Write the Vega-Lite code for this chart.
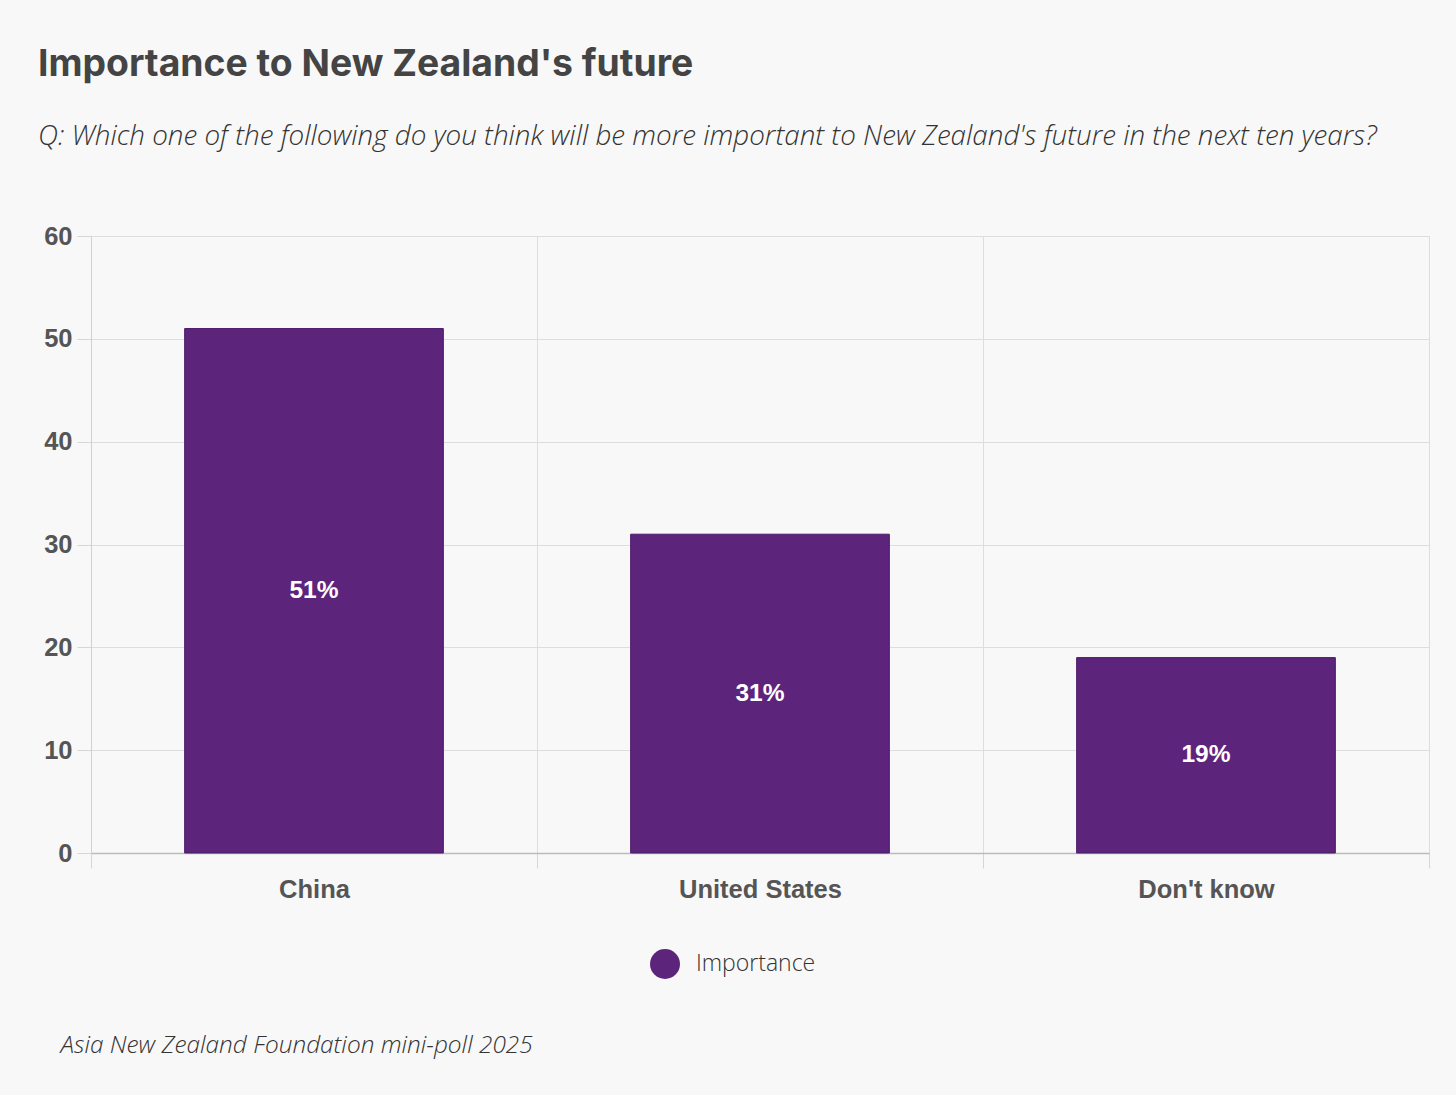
{
  "$schema": "https://vega.github.io/schema/vega-lite/v6.json",
  "autosize": "none",
  "width": 1338,
  "height": 617,
  "padding": {"left": 91, "top": 236, "right": 27, "bottom": 242},
  "background": "#f8f8f8",
  "title": {
    "text": "Importance to New Zealand's future",
    "subtitle": "Q: Which one of the following do you think will be more important to New Zealand's future in the next ten years?",
    "anchor": "start",
    "frame": "group",
    "dx": -53,
    "offset": 72,
    "font": "Inter",
    "fontSize": 37.3,
    "fontWeight": 700,
    "color": "#444444",
    "subtitleFont": "Open Sans",
    "subtitleFontSize": 27.8,
    "subtitleFontStyle": "italic",
    "subtitleFontWeight": 300,
    "subtitleColor": "#333333",
    "subtitlePadding": 39
  },
  "data": {
    "values": [
      {"country": "China", "share": 51, "series": "Importance"},
      {"country": "United States", "share": 31, "series": "Importance"},
      {"country": "Don't know", "share": 19, "series": "Importance"}
    ]
  },
  "transform": [
    {"calculate": "datum.share / 2", "as": "mid"},
    {"calculate": "datum.share + '%'", "as": "label"}
  ],
  "encoding": {
    "x": {
      "field": "country",
      "type": "nominal",
      "sort": null,
      "scale": {"paddingInner": 0, "paddingOuter": 0},
      "axis": {
        "title": "Asia New Zealand Foundation mini-poll 2025",
        "titleFont": "Open Sans",
        "titleFontSize": 24.4,
        "titleFontStyle": "italic",
        "titleFontWeight": 300,
        "titleColor": "#333333",
        "titleAnchor": "start",
        "titleAlign": "left",
        "titleX": -31,
        "titleY": 180,
        "labelAngle": 0,
        "labelFont": "Liberation Sans",
        "labelFontSize": 25.5,
        "labelFontWeight": "bold",
        "labelColor": "#555555",
        "labelPadding": 9,
        "tickBand": "extent",
        "tickSize": 15,
        "tickColor": "#d6d6d6",
        "grid": true,
        "gridColor": "#dddddd",
        "domainColor": "#bbbbbb",
        "domainWidth": 1.5
      }
    }
  },
  "layer": [
    {
      "mark": {"type": "bar", "width": {"band": 0.58}, "stroke": "#4b1a69", "strokeWidth": 1},
      "encoding": {
        "y": {
          "field": "share",
          "type": "quantitative",
          "scale": {"domain": [0, 60]},
          "axis": {
            "title": null,
            "values": [0, 10, 20, 30, 40, 50, 60],
            "labelFont": "Liberation Sans",
            "labelFontSize": 25.5,
            "labelFontWeight": "bold",
            "labelColor": "#555555",
            "labelPadding": 5,
            "tickSize": 14,
            "tickColor": "#d6d6d6",
            "gridColor": "#dddddd",
            "domainColor": "#d0d0d0"
          }
        },
        "color": {
          "field": "series",
          "type": "nominal",
          "scale": {"domain": ["Importance"], "range": ["#5d247c"]},
          "legend": {
            "title": null,
            "orient": "none",
            "legendX": 559,
            "legendY": 713,
            "direction": "horizontal",
            "symbolType": "circle",
            "symbolSize": 900,
            "symbolStrokeWidth": 0,
            "labelFont": "Open Sans",
            "labelFontSize": 23,
            "labelFontWeight": 300,
            "labelColor": "#333333",
            "labelOffset": 16
          }
        }
      }
    },
    {
      "mark": {
        "type": "text",
        "color": "white",
        "font": "Liberation Sans",
        "fontSize": 24.5,
        "fontWeight": "bold"
      },
      "encoding": {
        "y": {"field": "mid", "type": "quantitative"},
        "text": {"field": "label", "type": "nominal"}
      }
    }
  ],
  "config": {
    "view": {"stroke": "#dddddd"}
  }
}
